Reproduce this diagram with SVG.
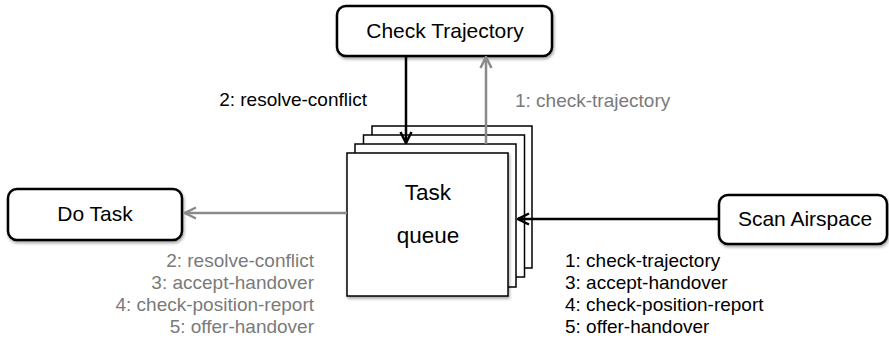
<svg xmlns="http://www.w3.org/2000/svg" width="889" height="339" viewBox="0 0 889 339">
<style>
text{font-family:"Liberation Sans",Arial,sans-serif;}
.box{fill:#fff;stroke:#000;stroke-width:2.5;filter:url(#sh);}
.blabel{font-size:21px;text-anchor:middle;fill:#000;}
.page{fill:#fff;stroke:#000;stroke-width:1.5;}
.lbl{font-size:19px;}
.blk{fill:#000;}
.gry{fill:#7a7a7a;}
.cb{stroke:#000;stroke-width:2.5;fill:none;}
.cg{stroke:#8a8a8a;stroke-width:2.5;fill:none;}
</style>
<defs>
<filter id="sh" x="-10%" y="-20%" width="130%" height="150%">
<feDropShadow dx="1" dy="2" stdDeviation="1.5" flood-color="#000" flood-opacity="0.35"/>
</filter>
<marker id="ab" viewBox="0 0 14 14" refX="13" refY="7" markerWidth="14" markerHeight="14" markerUnits="userSpaceOnUse" orient="auto">
<path d="M2,1.5 L13,7 L2,12.5" fill="none" stroke="#000" stroke-width="2.5"/>
</marker>
<marker id="ag" viewBox="0 0 14 14" refX="13" refY="7" markerWidth="14" markerHeight="14" markerUnits="userSpaceOnUse" orient="auto">
<path d="M2,1.5 L13,7 L2,12.5" fill="none" stroke="#8a8a8a" stroke-width="2.5"/>
</marker>
</defs>
<rect width="889" height="339" fill="#fff"/>
<g id="task-queue">
<rect class="page" x="372" y="126" width="160" height="142"/>
<rect class="page" x="363.5" y="135" width="161" height="142"/>
<rect class="page" x="355" y="144" width="161" height="143"/>
<rect class="page" x="347" y="153" width="161" height="143" style="filter:url(#sh)"/>
<text x="428" y="200" font-size="22.5" text-anchor="middle">Task</text>
<text x="428" y="243" font-size="22.5" text-anchor="middle">queue</text>
</g>
<g id="check-trajectory">
<rect class="box" x="337" y="6" width="215" height="50" rx="9"/>
<text class="blabel" x="445" y="38">Check Trajectory</text>
</g>
<g id="do-task">
<rect class="box" x="8" y="189" width="174" height="51" rx="9"/>
<text class="blabel" x="95" y="221">Do Task</text>
</g>
<g id="scan-airspace">
<rect class="box" x="719" y="195" width="168" height="49" rx="9"/>
<text class="blabel" x="805" y="226">Scan Airspace</text>
</g>
<g id="connectors">
<line class="cb" x1="406" y1="57" x2="406" y2="143" marker-end="url(#ab)"/>
<line class="cg" x1="486" y1="144" x2="486" y2="57" marker-end="url(#ag)"/>
<line class="cg" x1="347" y1="213" x2="185" y2="213" marker-end="url(#ag)"/>
<line class="cb" x1="719" y1="219" x2="518" y2="219" marker-end="url(#ab)"/>
</g>
<g id="labels">
<text class="lbl blk" x="367" y="106" text-anchor="end">2: resolve-conflict</text>
<text class="lbl gry" x="515" y="107">1: check-trajectory</text>
<text class="lbl gry" x="314" y="267" text-anchor="end">2: resolve-conflict</text>
<text class="lbl gry" x="314" y="289" text-anchor="end">3: accept-handover</text>
<text class="lbl gry" x="314" y="311" text-anchor="end">4: check-position-report</text>
<text class="lbl gry" x="314" y="333" text-anchor="end">5: offer-handover</text>
<text class="lbl blk" x="565" y="267">1: check-trajectory</text>
<text class="lbl blk" x="565" y="289">3: accept-handover</text>
<text class="lbl blk" x="565" y="311">4: check-position-report</text>
<text class="lbl blk" x="565" y="333">5: offer-handover</text>
</g>
</svg>
